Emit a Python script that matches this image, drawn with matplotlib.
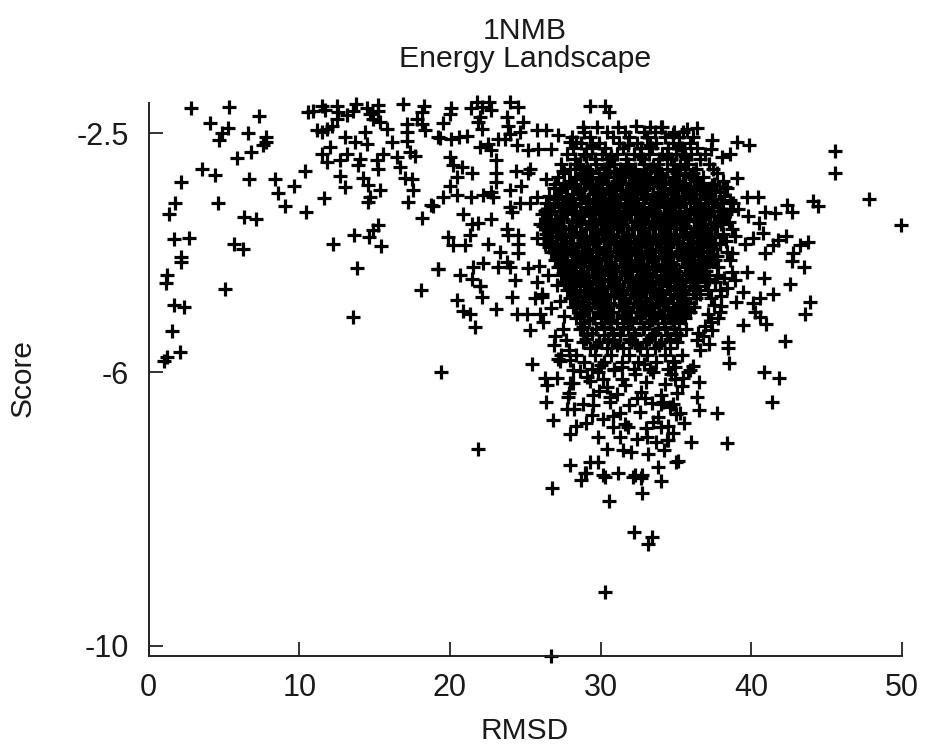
import matplotlib
matplotlib.use('Agg')
import matplotlib.pyplot as plt

plt.rcParams['font.family'] = ['Liberation Sans', 'DejaVu Sans']

x_ticks = [0, 10, 20, 30, 40, 50]
y_ticks = [-2.5, -6, -10]
y_tick_labels = ['-2.5', '-6', '-10']

# near native side, up to RMSD 19
left_rmsd = [2.81, 5.31, 7.35, 4.10, 5.27, 4.85, 6.62, 4.69, 7.79, 7.79, 7.57, 6.77, 5.85, 3.54, 4.39, 2.13,
             6.66, 8.41, 9.65, 10.40, 8.61, 11.64, 9.03, 10.45, 1.75, 1.33, 4.63, 6.31, 7.11, 1.71, 2.70,
             5.67, 6.27, 2.17, 2.17, 1.24, 1.13, 5.09, 1.69, 2.35, 1.55, 2.06, 1.24, 1.0, 12.26, 13.65,
             14.60, 14.91, 15.25, 15.40, 13.83, 13.54, 18.08, 18.14, 18.76, 17.19, 19.2,
             10.6, 10.93, 11.49, 11.7, 12.48, 12.59, 12.48, 13.15, 13.59, 13.76, 14.47, 14.69, 14.9, 15.2,
             15.25, 15.36, 16.9, 18.28, 18.12, 17.79, 17.13, 18.12, 18.34, 17.13, 19.2, 11.15, 11.49,
             11.82, 12.15, 13.03, 13.7, 14.36, 14.47, 15.8, 16.13, 17.13, 12.04, 11.49, 11.82, 12.7, 13.15,
             14.03, 13.92, 15.25, 15.14, 15.58, 16.46, 17.35, 17.68, 16.68, 17.0, 17.46, 17.57, 12.7, 13.03,
             14.25, 14.58, 15.36, 14.69, 14.58]
left_score = [-2.13, -2.12, -2.25, -2.35, -2.42, -2.50, -2.50, -2.60, -2.56, -2.63, -2.67, -2.78, -2.87, -3.03,
              -3.12, -3.22, -3.17, -3.17, -3.27, -3.05, -3.37, -3.45, -3.57, -3.65, -3.52, -3.69, -3.53, -3.73,
              -3.75, -4.05, -4.03, -4.13, -4.20, -4.31, -4.39, -4.57, -4.70, -4.78, -5.01, -5.05, -5.40, -5.71,
              -5.78, -5.84, -4.13, -3.99, -4.02, -3.92, -3.84, -4.15, -4.48, -5.19, -4.79, -3.74, -3.55, -3.51,
              -4.49, -2.19, -2.17, -2.11, -2.16, -2.10, -2.19, -2.29, -2.24, -2.17, -2.07, -2.14, -2.22, -2.29,
              -2.09, -2.17, -2.34, -2.07, -2.11, -2.19, -2.29, -2.36, -2.36, -2.46, -2.49, -2.56, -2.46, -2.49,
              -2.44, -2.39, -2.56, -2.63, -2.49, -2.66, -2.44, -2.63, -2.61, -2.70, -2.80, -2.92, -2.90, -2.80,
              -2.88, -2.97, -3.02, -2.90, -2.80, -2.85, -2.78, -2.84, -2.99, -3.15, -3.17, -3.34, -3.13, -3.29,
              -3.15, -3.26, -3.34, -3.44, -3.51]

# RMSD 19 to 28, left edge of the main cloud
mid_rmsd = [20.04, 20.0, 19.55, 21.77, 21.43, 22.1, 22.6, 22.76, 22.0, 21.88, 22.1, 23.98, 24.53, 23.8, 23.87,
            24.86, 23.98, 23.65, 24.64, 25.75, 26.41, 27.19, 19.33, 20.04, 20.62, 21.15, 21.99, 22.54, 22.76,
            23.2, 24.42, 25.2, 25.86, 26.68, 27.96, 28.4, 29.29, 30.28, 30.55, 28.85, 29.73, 31.17, 32.32,
            33.27, 34.04, 20.0, 20.22, 20.77, 21.44, 20.44, 20.0, 23.09, 23.09, 23.09, 24.38, 25.3, 25.2, 23.98,
            24.69, 19.55, 20.44, 21.37, 22.2, 22.76, 22.87, 18.89, 20.88, 21.44, 21.88, 22.76, 23.98, 24.09,
            24.64, 25.3, 25.75, 26.41, 27.52, 23.76, 23.87, 24.53, 19.89, 20.22, 20.99, 21.32, 22.54, 24.53,
            24.53, 23.31, 22.21, 21.55, 19.22, 20.66, 21.44, 21.99, 23.2, 23.76, 23.98, 24.31, 25.2, 25.75,
            26.08, 26.0, 20.44, 20.88, 21.32, 21.66, 22.1, 22.03, 23.09, 24.15, 24.42, 25.13, 25.97, 25.3, 25.64,
            26.08, 19.4, 25.42, 27.19, 27.3, 26.3, 27.08, 26.46, 26.37, 27.96, 28.18, 27.85, 27.74, 28.23,
            26.85, 27.96, 29.0, 30.17, 29.51, 29.51, 30.62, 21.88, 28.0, 29.29, 29.84, 31.5, 33.16, 33.82,
            31.17, 30.17, 28.95, 32.27, 32.72, 33.05, 31.28, 30.84, 31.83, 31.28, 32.4, 32.94, 32.6, 33.49,
            34.04, 34.38, 34.04, 31.39, 30.17, 29.07, 30.4, 26.79, 28.67, 29.02, 30.28, 32.16, 32.65, 34.04,
            32.76, 30.57, 32.21, 33.42, 33.16, 30.26, 26.74]
mid_score = [-2.13, -2.22, -2.35, -2.05, -2.14, -2.12, -2.05, -2.16, -2.27, -2.34, -2.44, -2.05, -2.12, -2.27, -2.39,
             -2.34, -2.51, -2.58, -2.49, -2.46, -2.46, -2.53, -2.57, -2.58, -2.56, -2.55, -2.70, -2.66, -2.75,
             -2.58, -2.68, -2.75, -2.73, -2.74, -2.63, -2.63, -2.10, -2.10, -2.19, -2.41, -2.41, -2.41, -2.39,
             -2.41, -2.41, -2.85, -2.97, -2.99, -3.08, -3.14, -3.27, -2.90, -3.09, -3.22, -3.05, -3.02, -3.09, -3.33,
             -3.28, -3.44, -3.41, -3.43, -3.40, -3.36, -3.44, -3.56, -3.68, -3.83, -3.82, -3.75, -3.58, -3.65,
             -3.53, -3.53, -3.44, -3.17, -3.05, -3.90, -3.99, -3.99, -4.02, -4.14, -4.14, -3.99, -4.12, -4.12,
             -4.26, -4.24, -4.40, -4.46, -4.49, -4.57, -4.63, -4.73, -4.46, -4.39, -4.46, -4.65, -4.48, -4.68,
             -3.68, -3.83, -4.94, -5.10, -5.14, -5.34, -4.90, -4.74, -5.07, -4.90, -5.14, -5.14, -5.14, -5.38, -4.92,
             -4.90, -5.99, -5.88, -5.80, -5.84, -6.08, -6.09, -6.19, -6.44, -6.16, -5.97, -6.36, -6.53, -6.54,
             -6.70, -6.90, -6.74, -6.69, -6.48, -6.33, -6.36, -7.12, -7.35, -7.31, -7.31, -7.14, -7.20, -7.38,
             -7.48, -7.50, -7.48, -7.50, -7.50, -6.94, -6.94, -6.80, -6.80, -6.60, -6.38, -6.38, -6.58, -6.72,
             -6.80, -6.99, -6.46, -6.10, -6.10, -6.07, -6.21, -7.69, -7.58, -7.47, -7.53, -7.53, -7.55, -7.59,
             -7.76, -7.88, -8.34, -8.41, -8.51, -9.22, -10.15]

# right side, past RMSD 34
right_rmsd = [42.57, 41.42, 43.89, 43.56, 39.47, 38.98, 40.58, 40.13, 40.24, 40.58, 40.97, 39.43, 37.99, 37.92,
              37.3, 42.23, 38.47, 38.47, 38.54, 40.86, 41.86, 41.35, 36.55, 36.42, 36.55, 37.74, 38.36, 35.97,
              35.16, 35.0, 35.27, 35.53, 34.49, 34.82, 36.15, 35.93, 36.37, 36.48, 34.94, 34.82, 34.16, 35.49,
              34.94, 45.55, 45.53, 47.83, 49.95, 44.12, 44.45, 42.35, 42.68, 41.57, 40.9, 40.47, 39.69, 39.8,
              40.51, 40.8, 42.3, 41.79, 41.46, 40.91, 43.74, 43.23, 42.79, 42.68, 43.5, 40.86, 39.03, 39.03,
              39.85, 38.03, 38.59, 37.37, 37.3, 37.48, 36.37, 35.71, 34.82, 34.05, 38.25, 37.37, 36.26, 38.59,
              39.14, 40.13, 39.58, 38.92, 38.7, 37.48, 39.69, 38.92, 37.59, 36.7, 38.7]
right_score = [-4.71, -4.86, -4.97, -5.14, -4.82, -4.97, -4.92, -4.99, -5.12, -5.19, -5.29, -5.31, -5.03, -5.12,
               -5.26, -5.54, -5.55, -5.65, -5.86, -5.99, -6.08, -6.43, -6.14, -6.36, -6.55, -6.59, -7.03, -7.02,
               -7.29, -7.31, -6.60, -6.74, -6.99, -6.89, -5.91, -5.96, -5.53, -5.43, -5.92, -6.46, -6.43, -6.09,
               -6.10, -2.76, -3.09, -3.46, -3.85, -3.50, -3.57, -3.55, -3.65, -3.67, -3.65, -3.44, -3.43, -3.72,
               -3.81, -3.96, -4.00, -4.07, -4.14, -4.26, -4.10, -4.14, -4.26, -4.37, -4.46, -4.62, -3.15, -2.63,
               -2.67, -2.85, -2.80, -2.60, -2.73, -3.02, -2.42, -2.44, -2.51, -2.41, -3.29, -3.26, -3.31, -3.48,
               -3.61, -4.04, -4.12, -4.00, -4.26, -4.36, -4.53, -4.65, -4.68, -4.58, -4.53]

# lower band and the rough edges of the cloud
edge_rmsd = [28.6, 29.8, 30.9, 32.3, 33.5, 34.7, 35.8, 28.2, 29.3, 31.6, 33.0, 34.3, 35.4, 27.9, 29.9, 31.1, 32.7,
             34.0, 35.1, 28.8, 30.6, 31.9, 33.4, 34.6, 29.4, 30.8, 33.8, 35.0, 28.4, 31.6, 33.0, 34.5, 29.8, 32.4,
             33.7, 30.4, 32.0, 34.2, 26.4, 26.9, 25.8, 26.6, 27.4, 25.9, 26.5, 27.1, 26.1, 27.3, 26.7, 27.6, 26.2,
             27.5, 27.0, 27.7, 26.9, 27.9, 27.4, 28.0, 37.6, 38.2, 37.9, 38.4, 37.3, 38.0, 37.5, 37.1, 37.8, 36.9,
             37.4, 36.8, 37.2, 36.6, 30.0, 31.4, 32.9, 34.8]
edge_score = [-5.98, -6.0, -5.96, -6.02, -5.99, -6.03, -6.0, -6.16, -6.13, -6.18, -6.14, -6.17, -6.2, -6.3, -6.27,
              -6.32, -6.29, -6.33, -6.3, -6.46, -6.44, -6.48, -6.45, -6.5, -6.62, -6.64, -6.66, -6.61, -6.78, -6.76,
              -6.82, -6.79, -6.95, -6.98, -7.02, -7.12, -7.16, -7.13, -3.62, -3.86, -4.03, -4.17, -4.31, -4.44, -4.58,
              -4.72, -4.85, -4.96, -5.06, -5.18, -5.27, -5.36, -5.47, -5.52, -5.6, -5.68, -5.74, -5.82, -4.68, -4.62,
              -4.8, -4.76, -4.92, -4.88, -5.02, -5.14, -5.2, -5.32, -5.38, -5.47, -5.58, -5.68, -5.9, -5.92, -5.88,
              -5.84]

# main cloud, read one band of score at a time
cloud_scores = [-2.48, -2.56, -2.64, -2.72, -2.8, -2.88, -2.95, -3.02, -3.08, -3.14, -3.2, -3.25, -3.31, -3.36,
                -3.42, -3.47, -3.53, -3.58, -3.64, -3.69, -3.75, -3.8, -3.86, -3.91, -3.97, -4.02, -4.08, -4.13,
                -4.19, -4.24, -4.3, -4.35, -4.41, -4.46, -4.52, -4.57, -4.63, -4.68, -4.74, -4.8, -4.86, -4.92,
                -4.98, -5.05, -5.12, -5.2, -5.28, -5.37, -5.46, -5.55, -5.65, -5.75, -5.85, -5.95]
cloud_rmsd = [
    [28.9, 30.4, 31.6, 32.9, 33.6, 34.9, 35.5],
    [28.1, 29.3, 30.8, 31.9, 33.1, 34.3, 35.2, 36.1],
    [28.7, 29.9, 31.2, 32.4, 33.7, 34.8, 35.9],
    [28.2, 29.4, 30.3, 31.5, 32.7, 33.4, 34.5, 35.4, 36.4],
    [27.8, 28.9, 30.1, 31.1, 32.2, 33.2, 34.1, 35.0, 36.0, 36.9],
    [28.3, 29.6, 30.6, 31.7, 32.8, 33.9, 34.7, 35.7, 36.6],
    [27.4, 28.5, 29.7, 30.9, 31.8, 32.9, 33.8, 34.9, 35.8, 37.2],
    [28.0, 29.1, 30.2, 31.3, 32.3, 33.3, 34.4, 35.3, 36.3],
    [27.6, 28.8, 29.9, 31.0, 32.0, 33.0, 34.0, 35.1, 36.1, 37.7],
    [27.2, 28.3, 29.4, 30.5, 31.5, 32.6, 33.7, 34.8, 35.9, 36.8],
    [27.9, 29.0, 30.0, 31.1, 32.2, 33.2, 34.2, 35.2, 36.4, 38.1],
    [27.0, 28.2, 29.3, 30.4, 31.4, 32.4, 33.5, 34.6, 35.6, 36.7, 37.5],
    [26.9, 27.8, 28.9, 30.0, 31.0, 32.0, 33.1, 34.1, 35.1, 36.2, 37.3, 38.4],
    [27.3, 28.5, 29.6, 30.6, 31.7, 32.7, 33.8, 34.8, 35.8, 36.9, 37.9],
    [26.6, 27.7, 28.8, 29.9, 30.9, 31.9, 33.0, 34.0, 35.0, 36.0, 37.1, 38.2],
    [27.1, 28.2, 29.2, 30.3, 31.3, 32.4, 33.4, 34.4, 35.5, 36.6, 37.6],
    [26.4, 27.5, 28.6, 29.7, 30.7, 31.8, 32.8, 33.9, 34.9, 35.9, 37.0, 38.0, 38.8],
    [26.9, 28.0, 29.1, 30.1, 31.2, 32.2, 33.3, 34.3, 35.3, 36.4, 37.4],
    [26.3, 27.3, 28.4, 29.5, 30.6, 31.6, 32.6, 33.6, 34.7, 35.7, 36.8, 37.8, 38.6],
    [26.7, 27.8, 28.9, 30.0, 31.0, 32.0, 33.1, 34.2, 35.2, 36.2, 37.2, 38.3],
    [26.5, 27.5, 28.5, 29.6, 30.7, 31.7, 32.8, 33.8, 34.8, 35.8, 36.9, 37.9],
    [27.0, 28.1, 29.2, 30.3, 31.3, 32.3, 33.4, 34.4, 35.4, 36.5, 37.5, 38.5],
    [26.2, 27.3, 28.4, 29.4, 30.5, 31.5, 32.6, 33.6, 34.6, 35.6, 36.7, 37.7],
    [26.8, 27.9, 29.0, 30.1, 31.1, 32.1, 33.2, 34.2, 35.3, 36.3, 37.3, 38.7],
    [26.4, 27.4, 28.6, 29.7, 30.8, 31.8, 32.9, 33.9, 34.9, 36.0, 37.0, 38.1],
    [27.1, 28.2, 29.3, 30.4, 31.4, 32.5, 33.5, 34.5, 35.5, 36.6, 37.6],
    [26.6, 27.7, 28.8, 29.8, 30.9, 31.9, 33.0, 34.0, 35.1, 36.1, 37.2, 38.3],
    [26.3, 27.4, 28.5, 29.5, 30.6, 31.6, 32.7, 33.7, 34.7, 35.8, 36.8, 37.9],
    [27.0, 28.0, 29.1, 30.2, 31.2, 32.2, 33.3, 34.3, 35.4, 36.4, 37.4],
    [26.7, 27.8, 28.9, 29.9, 31.0, 32.0, 33.1, 34.1, 35.1, 36.2, 37.1, 38.4],
    [27.3, 28.4, 29.4, 30.5, 31.5, 32.6, 33.6, 34.6, 35.7, 36.7, 37.7],
    [27.0, 28.1, 29.2, 30.3, 31.3, 32.3, 33.4, 34.4, 35.5, 36.5, 37.6, 38.6],
    [27.5, 28.6, 29.7, 30.7, 31.7, 32.8, 33.8, 34.8, 35.9, 36.9],
    [27.2, 28.3, 29.4, 30.4, 31.5, 32.5, 33.5, 34.6, 35.6, 36.6, 37.8],
    [27.7, 28.8, 29.8, 30.9, 31.9, 32.9, 34.0, 35.0, 36.0, 37.0],
    [27.4, 28.4, 29.5, 30.6, 31.6, 32.7, 33.7, 34.7, 35.7, 36.8, 37.7],
    [27.9, 28.9, 30.0, 31.0, 32.1, 33.1, 34.2, 35.2, 36.2, 37.2],
    [27.6, 28.6, 29.7, 30.8, 31.8, 32.8, 33.9, 34.9, 35.9, 36.9],
    [28.1, 29.1, 30.2, 31.2, 32.3, 33.3, 34.4, 35.4, 36.4],
    [27.8, 28.9, 29.9, 31.0, 32.0, 33.0, 34.1, 35.1, 36.1, 37.1],
    [28.3, 29.4, 30.4, 31.5, 32.5, 33.6, 34.6, 35.6, 36.6],
    [28.0, 29.1, 30.1, 31.2, 32.2, 33.3, 34.3, 35.3, 36.3],
    [28.5, 29.6, 30.6, 31.7, 32.7, 33.8, 34.8, 35.8],
    [28.2, 29.2, 30.3, 31.4, 32.4, 33.4, 34.5, 35.5, 36.2],
    [28.7, 29.8, 30.8, 31.9, 32.9, 33.9, 35.0, 35.9],
    [28.4, 29.5, 30.5, 31.6, 32.6, 33.6, 34.7, 35.6],
    [28.9, 30.0, 31.1, 32.1, 33.2, 34.2, 35.2],
    [28.6, 29.7, 30.7, 31.8, 32.8, 33.8, 34.9, 35.7],
    [29.1, 30.2, 31.3, 32.3, 33.4, 34.4, 35.3],
    [28.8, 29.9, 30.9, 32.0, 33.0, 34.0, 35.1],
    [29.3, 30.4, 31.5, 32.6, 33.6, 34.6],
    [28.4, 29.6, 30.7, 31.9, 33.1, 34.3, 35.4],
    [28.9, 30.2, 31.4, 32.5, 33.7, 34.9],
    [29.4, 30.9, 32.2, 33.3, 34.5],
]

# second pass over the black core, between the bands above
core_scores = [-2.68, -2.84, -2.98, -3.05, -3.11, -3.17, -3.23, -3.28, -3.34, -3.39, -3.45, -3.5, -3.56, -3.61,
               -3.67, -3.72, -3.78, -3.83, -3.89, -3.94, -4.0, -4.05, -4.11, -4.16, -4.22, -4.27, -4.33, -4.38,
               -4.44, -4.49, -4.55, -4.6, -4.66, -4.71, -4.77, -4.83, -4.89, -4.95, -5.02, -5.09, -5.16, -5.24,
               -5.33, -5.42, -5.51, -5.6]
core_rmsd = [
    [29.4, 31.8, 33.3, 35.2],
    [29.0, 30.7, 32.6, 34.4, 35.6],
    [28.6, 30.4, 31.7, 33.5, 35.3],
    [29.3, 30.9, 32.1, 33.6, 34.8],
    [28.8, 30.3, 31.6, 32.8, 34.1, 35.6],
    [28.4, 29.9, 31.2, 32.4, 33.7, 34.9, 36.2],
    [27.6, 29.1, 30.5, 31.9, 33.0, 34.3, 35.5, 36.8],
    [28.3, 29.7, 31.0, 32.5, 33.8, 35.1, 36.3],
    [27.4, 28.6, 30.1, 31.4, 32.9, 34.2, 35.4, 36.7, 37.6],
    [28.1, 29.5, 30.8, 32.2, 33.5, 34.8, 36.1, 37.2],
    [27.2, 28.7, 30.2, 31.6, 32.9, 34.1, 35.6, 36.9],
    [27.8, 29.2, 30.7, 32.0, 33.6, 34.9, 36.2, 37.4],
    [26.9, 28.3, 29.8, 31.2, 32.5, 33.9, 35.3, 36.6],
    [27.6, 29.0, 30.5, 31.8, 33.2, 34.6, 35.9, 37.1, 38.1],
    [26.7, 28.2, 29.6, 31.1, 32.4, 33.8, 35.2, 36.5],
    [27.4, 28.9, 30.2, 31.5, 33.0, 34.3, 35.6, 36.9, 37.8],
    [26.6, 28.1, 29.4, 30.9, 32.3, 33.7, 35.0, 36.3],
    [27.2, 28.7, 30.0, 31.4, 32.8, 34.1, 35.5, 36.8, 38.0],
    [26.5, 27.9, 29.3, 30.7, 32.1, 33.5, 34.9, 36.2, 37.3],
    [27.3, 28.6, 30.1, 31.5, 32.9, 34.3, 35.7, 37.0],
    [26.6, 28.0, 29.5, 30.8, 32.2, 33.6, 35.0, 36.4, 37.6],
    [27.4, 28.8, 30.2, 31.6, 33.0, 34.4, 35.8, 37.1],
    [26.8, 28.2, 29.6, 31.0, 32.4, 33.8, 35.2, 36.6, 37.9],
    [27.5, 28.9, 30.3, 31.7, 33.1, 34.5, 35.9, 37.3],
    [26.9, 28.3, 29.7, 31.1, 32.5, 33.9, 35.3, 36.7],
    [27.6, 29.0, 30.4, 31.8, 33.2, 34.6, 36.0, 37.4],
    [27.1, 28.5, 29.9, 31.3, 32.7, 34.1, 35.4, 36.8],
    [27.8, 29.2, 30.6, 32.0, 33.4, 34.7, 36.1, 37.2],
    [27.3, 28.7, 30.0, 31.4, 32.8, 34.2, 35.6, 36.9],
    [28.0, 29.4, 30.8, 32.1, 33.5, 34.9, 36.3],
    [27.5, 28.8, 30.2, 31.6, 33.0, 34.4, 35.8],
    [28.2, 29.6, 31.0, 32.4, 33.7, 35.1, 36.5],
    [27.7, 29.1, 30.5, 31.9, 33.2, 34.6, 36.0],
    [28.4, 29.8, 31.2, 32.6, 33.9, 35.3],
    [28.0, 29.3, 30.7, 32.1, 33.5, 34.9, 36.2],
    [28.6, 30.0, 31.4, 32.8, 34.1, 35.5],
    [28.2, 29.5, 30.9, 32.3, 33.7, 35.1],
    [28.8, 30.2, 31.6, 33.0, 34.3, 35.6],
    [28.4, 29.8, 31.2, 32.5, 33.9, 35.2],
    [29.0, 30.4, 31.8, 33.2, 34.5, 35.8],
    [28.6, 30.0, 31.4, 32.7, 34.1, 35.4],
    [29.2, 30.6, 32.0, 33.4, 34.8],
    [28.8, 30.2, 31.5, 32.9, 34.3],
    [29.4, 30.8, 32.2, 33.6, 35.0],
    [29.0, 30.5, 31.9, 33.2, 34.6],
    [29.7, 31.1, 32.4, 33.9],
]

for s, row in zip(cloud_scores + core_scores, cloud_rmsd + core_rmsd):
    mid_rmsd = mid_rmsd + row
    mid_score = mid_score + [s] * len(row)

text_color = '#1a1a1a'

fig = plt.figure(figsize=(9.27, 7.45), dpi=100)
ax = fig.add_axes([148.5 / 927, 1 - 656 / 745, (902 - 148.5) / 927, (656 - 103) / 745])

for xs, ys in [(left_rmsd, left_score), (mid_rmsd, mid_score), (right_rmsd, right_score), (edge_rmsd, edge_score)]:
    ax.plot(xs, ys, linestyle='none', marker='+', color='black', markersize=10, markeredgewidth=2.3, clip_on=False)

ax.set_xlim(0, 50)
ax.set_ylim(-10.15, -2.06)
ax.set_xticks(x_ticks)
ax.set_yticks(y_ticks)
ax.set_yticklabels(y_tick_labels)
ax.tick_params(axis='both', direction='in', length=10, width=1.3, color='#222222', labelsize=22, labelcolor=text_color)
ax.tick_params(axis='x', pad=12)
ax.tick_params(axis='y', pad=14)
ax.spines['top'].set_visible(False)
ax.spines['right'].set_visible(False)
ax.spines['left'].set_linewidth(1.4)
ax.spines['bottom'].set_linewidth(1.4)
ax.spines['left'].set_color('#222222')
ax.spines['bottom'].set_color('#222222')

fig.text(525 / 927, 1 - 31 / 745, '1NMB', ha='center', va='center', fontsize=21.8, color=text_color)
fig.text(525 / 927, 1 - 59 / 745, 'Energy Landscape', ha='center', va='center', fontsize=21.8, color=text_color)
fig.text(525 / 927, 1 - 731 / 745, 'RMSD', ha='center', va='center', fontsize=21.5, color=text_color)
fig.text(23 / 927, 1 - 378 / 745, 'Score', ha='center', va='center', rotation=90, fontsize=21.5, color=text_color)

fig.savefig('out.png', dpi=100)
